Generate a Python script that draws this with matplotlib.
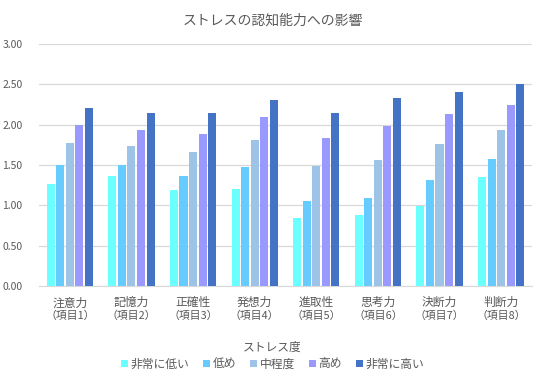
import matplotlib
matplotlib.use("Agg")
import matplotlib.pyplot as plt
import numpy as np
from matplotlib.patches import Patch

plt.rcParams['font.family'] = ['Noto Sans CJK JP', 'DejaVu Sans']

categories = ["注意力", "記憶力", "正確性", "発想力", "進取性", "思考力", "決断力", "判断力"]
sublabels = ["（項目1）", "（項目2）", "（項目3）", "（項目4）", "（項目5）", "（項目6）", "（項目7）", "（項目8）"]
series_names = ["非常に低い", "低め", "中程度", "高め", "非常に高い"]
very_low = [1.27, 1.36, 1.19, 1.20, 0.84, 0.88, 0.99, 1.35]
low = [1.50, 1.50, 1.36, 1.47, 1.06, 1.09, 1.32, 1.57]
medium = [1.77, 1.74, 1.66, 1.81, 1.49, 1.56, 1.76, 1.93]
high = [2.00, 1.94, 1.89, 2.09, 1.84, 1.98, 2.13, 2.24]
very_high = [2.21, 2.15, 2.14, 2.31, 2.14, 2.33, 2.40, 2.51]
series = [very_low, low, medium, high, very_high]
colors = ["#6BFFFF", "#66CCFF", "#9DC3E6", "#9999FF", "#4472C4"]
yticks = [0.0, 0.5, 1.0, 1.5, 2.0, 2.5, 3.0]

fig = plt.figure(figsize=(5.45, 3.76), dpi=100)
ax = fig.add_axes([0.0716, 0.239, 0.9044, 0.644])

x = np.arange(len(categories))
pitch = 0.155
width = 0.13
for i, (vals, c) in enumerate(zip(series, colors)):
    ax.bar(x + (i - 2) * pitch, vals, width=width, color=c, zorder=3)

ax.set_xlim(-0.5, len(categories) - 0.5)
ax.set_ylim(0, 3.0)
ax.set_yticks(yticks)
ax.set_yticklabels([f"{v:.2f}" for v in yticks], fontsize=7.5, color="#595959")
ax.yaxis.grid(True, color="#D9D9D9", linewidth=0.9, zorder=0)
for s in ["top", "right", "left"]:
    ax.spines[s].set_visible(False)
ax.spines["bottom"].set_color("#D9D9D9")
ax.tick_params(axis="y", length=0, pad=12)
ax.tick_params(axis="x", length=0)
ax.set_xticks(x)
ax.set_xticklabels([])

for xi, cat, sub in zip(x, categories, sublabels):
    ax.annotate(cat, xy=(xi, 0), xycoords=("data", "axes fraction"),
                xytext=(0, -12), textcoords="offset points", ha="center", va="center",
                fontsize=8.5, color="#595959")
    ax.annotate(sub, xy=(xi, 0), xycoords=("data", "axes fraction"),
                xytext=(0, -21.5), textcoords="offset points", ha="center", va="center",
                fontsize=7.8, color="#595959")

fig.text(0.5, 1 - 21 / 376, "ストレスの認知能力への影響", ha="center", va="center",
         fontsize=10, color="#595959")

fig.text(0.5, 1 - 347 / 376, "ストレス度", ha="center", va="center",
         fontsize=8.5, color="#595959")

handles = [Patch(facecolor=c, edgecolor="none") for c in colors]
leg = fig.legend(handles, series_names, loc="center", bbox_to_anchor=(0.5, 1 - 364 / 376),
                 ncol=5, frameon=False, fontsize=8.5, handlelength=0.6, handleheight=0.6,
                 handletextpad=0.2, columnspacing=1.2, borderpad=0,
                 labelcolor="#595959")

fig.savefig("out.png", dpi=100)
